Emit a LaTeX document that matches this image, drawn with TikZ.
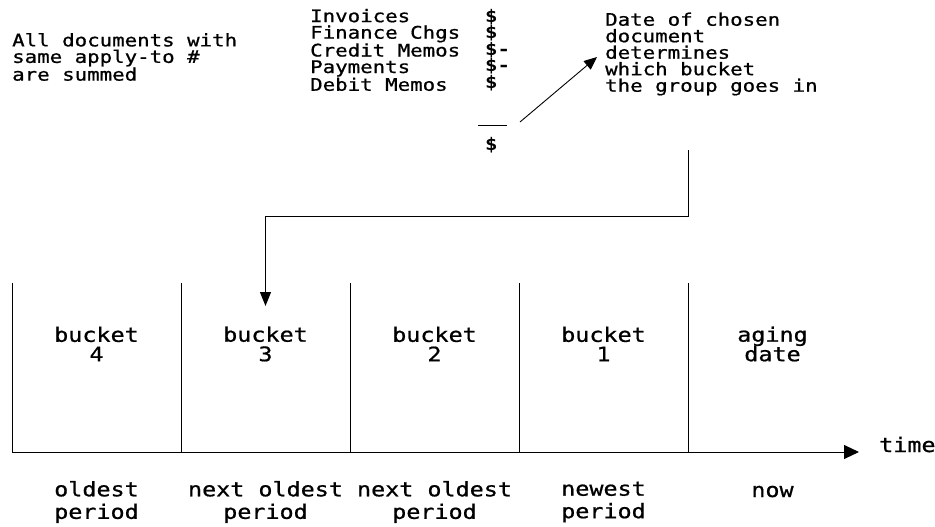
\documentclass[tikz,border=0pt]{standalone}
\usepackage{fontspec}
\newfontfamily\smallmono[FakeStretch=1.2,FakeBold=0.8]{DejaVu Sans Mono}
\newfontfamily\boldmono[FakeStretch=1.2]{DejaVu Sans Mono Bold}
\newfontfamily\bigmono[FakeStretch=1.17,FakeBold=0.8]{DejaVu Sans Mono}
\usetikzlibrary{arrows.meta}
\begin{document}
\begin{tikzpicture}[x=1pt,y=-1pt,
  small/.style={font=\smallmono\fontsize{17.3}{16.5}\selectfont,inner sep=0pt,align=left},
  dollar/.style={small,font=\boldmono\fontsize{17.3}{16.5}\selectfont},
  big/.style={font=\bigmono\fontsize{20}{19.5}\selectfont,inner sep=0pt,align=center},
  period/.style={big,font=\bigmono\fontsize{20}{22.5}\selectfont},
  conn/.style={line width=0.9pt,-{Triangle[length=14pt,width=12pt]}},
  wall/.style={line width=0.9pt}]
\useasboundingbox (0,0) rectangle (935,527);
% top texts
\node[small,anchor=west] (summed) at (12,57) {All documents with\\same apply-to \#\\are summed};
\node[small,anchor=west] (docs) at (310,50) {Invoices\\Finance Chgs\\Credit Memos\\Payments\\Debit Memos};
\node[dollar,anchor=west] (signs) at (485,50) {\$\\\$\\\$-\\\$-\\\$};
\coordinate (ruleL) at (478,125);
\coordinate (ruleR) at (507,125);
\draw[wall] (ruleL) -- (ruleR);
\node[dollar,anchor=west] (total) at (485,145) {\$};
\node[small,anchor=west] (date) at (605,54) {Date of chosen\\document\\determines\\which bucket\\the group goes in};
% columns
\coordinate (c0t) at (12,283);  \coordinate (c0b) at (12,452);
\coordinate (c1t) at (181,283); \coordinate (c1b) at (181,452);
\coordinate (c2t) at (350,283); \coordinate (c2b) at (350,452);
\coordinate (c3t) at (519,283); \coordinate (c3b) at (519,452);
\coordinate (c4t) at (688,283); \coordinate (c4b) at (688,452);
\coordinate (axisend) at (859,452);
\foreach \i in {0,...,4} {\draw[wall] (c\i t) -- (c\i b);}
\draw[conn,-{Triangle[length=15pt,width=14pt]}] (c0b) -- (axisend);
\node[big,anchor=base west] (time) at (879,452) {time};
% bucket labels
\node[big] (b4) at (96.5,344) {bucket\\4};
\node[big] (b3) at (265.5,344) {bucket\\3};
\node[big] (b2) at (434.5,344) {bucket\\2};
\node[big] (b1) at (603.5,344) {bucket\\1};
\node[big] (ag) at (772.5,344) {aging\\date};
% period labels
\node[period] (p4) at (96.5,502) {oldest\\period};
\node[period] (p3) at (265.5,502) {next oldest\\period};
\node[period] (p2) at (434.5,502) {next oldest\\period};
\node[period] (p1) at (603.5,502) {newest\\period};
\node[period,anchor=base] (p0) at (772.5,497) {now};
% connectors
\coordinate (dstart) at (520,122);
\coordinate (dtip) at (597,57);
\draw[conn,-{Triangle[length=13pt,width=11pt]}] (dstart) -- (dtip);
\coordinate (bstart) at (688,150);
\coordinate (btip) at (265.5,306);
\draw[conn,-{Triangle[length=14pt,width=11pt]}] (bstart) |- (265.5,216) -- (btip);
\end{tikzpicture}
\end{document}
